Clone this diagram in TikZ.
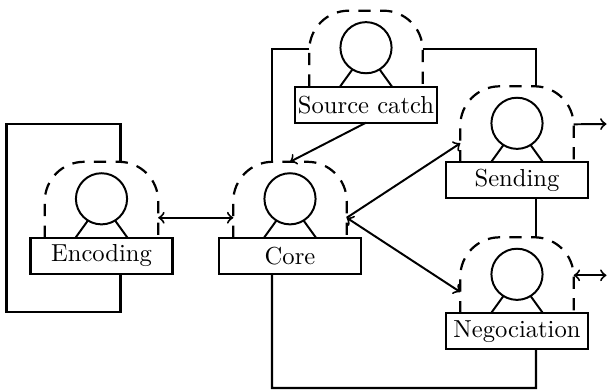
\documentclass[tikz,border=0pt]{standalone}
\tikzset{
  x=0.4065pt, y=-0.4065pt,
  line/.style={line width=0.9pt},
  wire/.style={line width=0.9pt, line join=miter},
  flow/.style={line width=0.8pt},
  bodyarea/.style={inner sep=0pt, outer sep=0pt, minimum width=46.1pt, minimum height=30.9pt},
  actorbox/.style={draw, line, fill=white, inner sep=0pt, outer sep=0pt, minimum width=57.7pt, minimum height=14.6pt},
  actorhead/.style={draw, line width=0.8pt, circle, inner sep=0pt, outer sep=0pt, minimum size=20.8pt},
  leg/.style={line width=0.8pt},
  hull/.style={line width=0.9pt, dash pattern=on 5pt off 3.8pt, rounded corners=16pt},
}
\newcommand{\actor}[4]{%
  \pgfmathsetmacro{\ay}{#3-38}\pgfmathsetmacro{\hy}{#3-39}\pgfmathsetmacro{\by}{#3+18}%
  \node[bodyarea] (#1-a) at (#2,\ay) {};
  \node[actorhead] (#1-h) at (#2,\hy) {};
  \node[actorbox] (#1) at (#2,\by) {#4};
  \draw[hull] (#1-a.south west) -- (#1-a.north west) -- (#1-a.north east) -- (#1-a.south east);
  \draw[leg] ([xshift=-10.6pt]#1.north) -- (#1-h.-122);
  \draw[leg] ([xshift=10.6pt]#1.north) -- (#1-h.-58);
}
\begin{document}
\begin{tikzpicture}
\useasboundingbox (0,0) rectangle (607,390);
\actor{enc}{101.5}{237.8}{Encoding}
\actor{core}{290}{237.8}{Core}
\actor{src}{366}{86.7}{Source catch}
\actor{snd}{517}{162.3}{Sending}
\actor{neg}{517}{313.3}{Negociation}
\coordinate (snd-out) at (606.5,124);
\coordinate (neg-out) at (606.5,275.3);
\coordinate (el1) at (6.5,123.7);
\coordinate (el2) at (6.5,312);
\coordinate (nb) at (272,388);
% self loop of Encoding
\draw[wire] ([xshift=7.7pt]enc-a.north) |- (el1) -- (el2) -| ([xshift=7.7pt]enc.south);
% Source catch links
\draw[wire] (src-a.west) -| ([xshift=-7.3pt]core-a.north);
\draw[wire] (src-a.east) -| ([xshift=7.7pt]snd-a.north);
% Sending to Negociation
\draw[wire] ([xshift=7.7pt]snd.south) -- ([xshift=7.7pt]neg-a.north);
% Core to Negociation
\draw[wire] ([xshift=-7.3pt]core.south) -- (nb) -| ([xshift=7.7pt]neg.south);
% Arrows
\draw[flow,<->] ([yshift=-7.3pt]enc-a.east) -- ([yshift=-7.3pt]core-a.west);
\draw[flow,->] (src.south) -- (core-a.north);
\draw[flow,->] ([yshift=-7.3pt]core-a.east) -- ([yshift=-7.7pt]snd-a.west);
\draw[flow,<->] ([yshift=-7.3pt]core-a.east) -- ([yshift=-6.8pt]neg-a.west);
\draw[flow,->] (snd-a.east) -- (snd-out);
\draw[flow,<->] (neg-a.east) -- (neg-out);
\end{tikzpicture}
\end{document}
